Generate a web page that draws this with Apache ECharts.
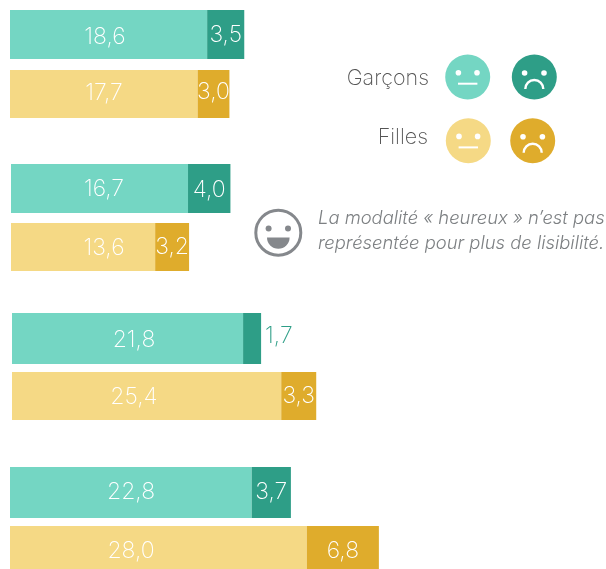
<!DOCTYPE html>
<html lang="fr">
<head>
<meta charset="utf-8">
<style>html,body{margin:0;padding:0;background:#fff}#c{width:606px;height:569px}</style>
<script src="https://cdn.jsdelivr.net/npm/echarts@6/dist/echarts.min.js"></script>
</head>
<body>
<div id="c"></div>
<script>
// Data: row order is Garçons, Filles for each of the four groups
const rowNames = ['Garçons','Filles','Garçons','Filles','Garçons','Filles','Garçons','Filles'];
const neutralValues = [18.6,17.7,16.7,13.6,21.8,25.4,22.8,28.0];
const sadValues = [3.5,3.0,4.0,3.2,1.7,3.3,3.7,6.8];

// Layout
const rowLeft = [10,10,11,11,12,12,10,10];
const rowTop = [10,70,164,223,313,372,467,526];
const rowHeight = [49,48,49,48,51,48,51,49];
const neutralLabelX = [95,94,93,93,122,122,121,121];
const neutralLabelDy = [3,-1,1,1,2,1,0,4];
const sadLabelDy = [1,-2,2,0,-2,0,0,4];
const FONT = 'Inter';
const COLORS = {
  'Garçons': {neutral:'#74D6C3', sad:'#2E9E87'},
  'Filles':  {neutral:'#F5D985', sad:'#DFAC2C'}
};
const SCALE_MAX = 50, PX_PER_UNIT = 10.6;
const fmt = v => v.toFixed(1).replace('.', ',');

const grids = [], xAxes = [], yAxes = [], series = [];
rowNames.forEach((name, i) => {
  grids.push({left:rowLeft[i], top:rowTop[i], height:rowHeight[i], width:SCALE_MAX*PX_PER_UNIT});
  xAxes.push({type:'value', gridIndex:i, min:0, max:SCALE_MAX, show:false});
  yAxes.push({type:'category', gridIndex:i, data:[name], show:false});
  series.push({
    type:'bar', name:name+' neutre', stack:'s'+i, xAxisIndex:i, yAxisIndex:i,
    barWidth:'100%', silent:true, animation:false,
    data:[neutralValues[i]],
    itemStyle:{color:COLORS[name].neutral},
    label:{show:true, position:[neutralLabelX[i],'50%'], align:'center', verticalAlign:'middle',
      offset:[0,neutralLabelDy[i]],
      formatter:p=>fmt(p.value), color:'#fff', fontFamily:FONT, fontWeight:200, fontSize:23}
  });
  const outside = sadValues[i] < 2;
  series.push({
    type:'bar', name:name+' triste', stack:'s'+i, xAxisIndex:i, yAxisIndex:i,
    barWidth:'100%', silent:true, animation:false,
    data:[sadValues[i]],
    itemStyle:{color:COLORS[name].sad},
    label:{show:true, position:outside?'right':'inside', distance:4, offset:[0,sadLabelDy[i]],
      formatter:p=>fmt(p.value), color:outside?COLORS[name].sad:'#fff',
      fontFamily:FONT, fontWeight:200, fontSize:23}
  });
});

// Legend faces
const WHITE = '#fff', GREY = '#85888C';
function neutralFace(cx, cy, color){
  return [
    {type:'circle', shape:{cx, cy, r:22.5}, style:{fill:color}},
    {type:'circle', shape:{cx:cx-9.3, cy:cy-4.3, r:2.8}, style:{fill:WHITE}},
    {type:'circle', shape:{cx:cx+9.3, cy:cy-4.3, r:2.8}, style:{fill:WHITE}},
    {type:'line', shape:{x1:cx-9.7, y1:cy+6.7, x2:cx+9.7, y2:cy+6.7}, style:{stroke:WHITE, lineWidth:2}}
  ];
}
function sadFace(cx, cy, color){
  return [
    {type:'circle', shape:{cx, cy, r:22.5}, style:{fill:color}},
    {type:'circle', shape:{cx:cx-9.7, cy:cy-4, r:2.8}, style:{fill:WHITE}},
    {type:'circle', shape:{cx:cx+9.7, cy:cy-4, r:2.8}, style:{fill:WHITE}},
    {type:'arc', shape:{cx, cy:cy+12, r:9, startAngle:Math.PI, endAngle:2*Math.PI, clockwise:true},
      style:{stroke:WHITE, fill:null, lineWidth:2.4}}
  ];
}
function happyFace(cx, cy){
  return [
    {type:'circle', shape:{cx, cy, r:22.5}, style:{fill:'#fff', stroke:GREY, lineWidth:3}},
    {type:'circle', shape:{cx:cx-9.7, cy:cy-4.3, r:3}, style:{fill:GREY}},
    {type:'circle', shape:{cx:cx+9.7, cy:cy-4.3, r:3}, style:{fill:GREY}},
    {type:'sector', shape:{cx, cy:cy+4.7, r0:0, r:11.3, startAngle:0, endAngle:Math.PI, clockwise:true}, style:{fill:GREY}}
  ];
}
function text(x, y, str, o){
  return {type:'text', x, y, style:Object.assign({text:str, fontFamily:FONT, verticalAlign:'middle'}, o)};
}
const graphicEls = [
  ...neutralFace(467.7,77,COLORS['Garçons'].neutral),
  ...sadFace(534.3,77,COLORS['Garçons'].sad),
  ...neutralFace(468.3,140.7,COLORS['Filles'].neutral),
  ...sadFace(532.7,140.7,COLORS['Filles'].sad),
  ...happyFace(278.3,232.7),
  text(429,79,'Garçons',{align:'right', fontSize:21.5, fontWeight:200, fill:'#555'}),
  text(428,138,'Filles',{align:'right', fontSize:21.5, fontWeight:200, fill:'#555'}),
  text(318,218.5,'La modalité « heureux » n’est pas',{align:'left', fontSize:18.4, fontWeight:300, fontStyle:'italic', fill:'#7d8083'}),
  text(318,243.5,'représentée pour plus de lisibilité.',{align:'left', fontSize:18.4, fontWeight:300, fontStyle:'italic', fill:'#7d8083'})
];

const chart = echarts.init(document.getElementById('c'), null, {renderer:'canvas'});
chart.setOption({
  animation:false,
  grid:grids, xAxis:xAxes, yAxis:yAxes, series,
  graphic:{elements:graphicEls}
});
</script>
</body>
</html>
